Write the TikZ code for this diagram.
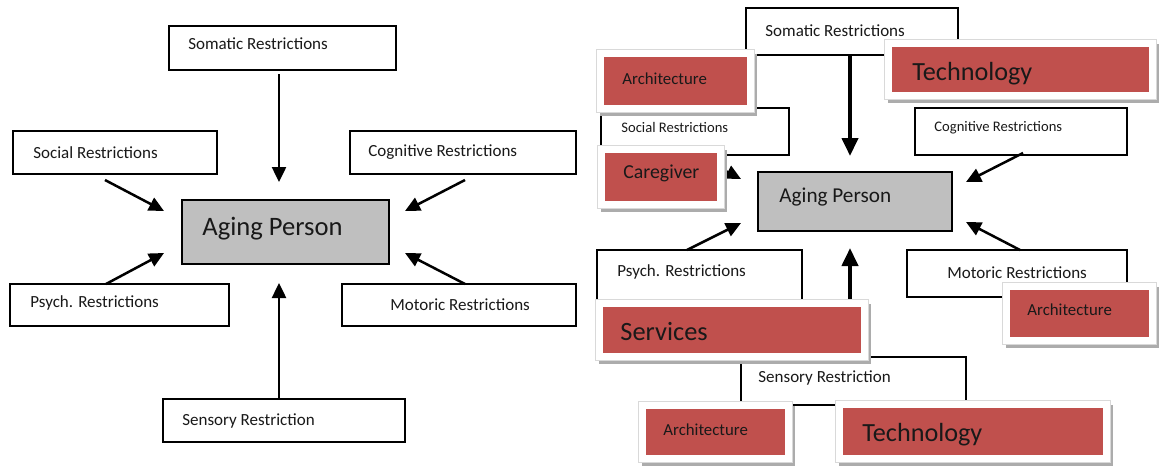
\documentclass[tikz,border=0pt]{standalone}
\usepackage{fontspec}
\setmainfont{Carlito}
\usetikzlibrary{arrows.meta, positioning}

\definecolor{redfill}{HTML}{C0504D}
\definecolor{corefill}{HTML}{BFBFBF}

\begin{document}
\begin{tikzpicture}[x=0.5pt, y=-0.5pt, >={Triangle[length=7.5pt, width=7pt]}]

  % Styles
  \tikzstyle{restr} = [rectangle, draw=black, line width=0.8pt, fill=white, anchor=north west, outer sep=0pt, inner sep=0pt]
  \tikzstyle{core} = [restr, fill=corefill]
  \tikzstyle{support} = [rectangle, fill=redfill, draw=white, line width=3.5pt, anchor=north west, outer sep=0pt, inner sep=0pt, preaction={draw=gray!65, line width=3.5pt, transform canvas={shift={(1.6pt,-2pt)}}}, preaction={draw=gray!30, line width=4.1pt}]
  \tikzstyle{lbl} = [inner sep=0pt, text=black!90, font=\fontsize{8.5}{10}\selectfont]
  \tikzstyle{arr} = [->, line width=1.25pt]
  \tikzstyle{thickarr} = [-{Triangle[length=9pt, width=8pt]}, line width=2pt]

  \useasboundingbox (0,0) rectangle (1159,466);

  % Left: restrictions around the aging person
  \node[restr, minimum width=113.5pt, minimum height=22pt] (somL) at (169,26) {};
  \node[lbl, right=9.5pt of somL.west, yshift=2pt] (somLt) {Somatic Restrictions};
  \node[restr, minimum width=102pt, minimum height=21.5pt] (socL) at (13,131) {};
  \node[lbl, right=10pt of socL.west] (socLt) {Social Restrictions};
  \node[restr, minimum width=113pt, minimum height=21.5pt] (cogL) at (350,131) {};
  \node[lbl, right=9pt of cogL.west] (cogLt) {Cognitive Restrictions};
  \node[core, minimum width=103.5pt, minimum height=32pt] (ageL) at (182,200) {};
  \node[lbl, right=10pt of ageL.west, yshift=1.5pt, font=\fontsize{13.3}{15}\selectfont] (ageLt) {Aging Person};
  \node[restr, minimum width=109.5pt, minimum height=21pt] (psyL) at (10,284) {};
  \node[lbl, right=10pt of psyL.west, yshift=1pt] (psyLt) {Psych. Restrictions};
  \node[restr, minimum width=117pt, minimum height=21pt] (motL) at (342,284) {};
  \node[lbl, right=24pt of motL.west] (motLt) {Motoric Restrictions};
  \node[restr, minimum width=121pt, minimum height=21.5pt] (senL) at (163,399) {};
  \node[lbl, right=9.5pt of senL.west] (senLt) {Sensory Restriction};

  \draw[arr] ([xshift=-1.75pt, yshift=-2pt]somL.south) -- ([xshift=-3.25pt, yshift=9pt]ageL.north);
  \draw[arr] ([xshift=-5pt, yshift=-3pt]socL.south) -- ([xshift=-9pt, yshift=10.5pt]ageL.west);
  \draw[arr] ([xshift=1pt, yshift=-3pt]cogL.south) -- ([xshift=8pt, yshift=10.5pt]ageL.east);
  \draw[arr] ([xshift=-6.75pt]psyL.north) -- ([xshift=-9pt, yshift=-10.5pt]ageL.west);
  \draw[arr] ([xshift=3pt]motL.north) -- ([xshift=8pt, yshift=-10.5pt]ageL.east);
  \draw[arr] ([xshift=-2.5pt]senL.north) -- ([xshift=-3.25pt, yshift=-9.5pt]ageL.south);

  % Right: same scheme with the supports on top
  \node[restr, minimum width=106pt, minimum height=23.5pt] (somR) at (746,8) {};
  \node[lbl, right=9.5pt of somR.west, yshift=0.5pt] (somRt) {Somatic Restrictions};
  \node[restr, minimum width=94pt, minimum height=23.5pt] (socR) at (601,108) {};
  \node[lbl, right=10pt of socR.west, yshift=2pt, font=\fontsize{7.3}{9}\selectfont] (socRt) {Social Restrictions};
  \node[restr, minimum width=106pt, minimum height=23.5pt] (cogR) at (915,108) {};
  \node[lbl, right=9.5pt of cogR.west, yshift=2pt, font=\fontsize{7.3}{9}\selectfont] (cogRt) {Cognitive Restrictions};
  \node[core, minimum width=97pt, minimum height=29.5pt] (ageR) at (758,172) {};
  \node[lbl, right=10.5pt of ageR.west, yshift=2pt, font=\fontsize{10.6}{12}\selectfont] (ageRt) {Aging Person};
  \node[restr, minimum width=102.5pt, minimum height=25pt] (psyR) at (597,250) {};
  \node[lbl, right=10pt of psyR.west, yshift=1.5pt] (psyRt) {Psych. Restrictions};
  \node[restr, minimum width=110pt, minimum height=23.5pt] (motR) at (907,250) {};
  \node[lbl, right=20pt of motR.west, yshift=0.5pt] (motRt) {Motoric Restrictions};
  \node[restr, minimum width=112.5pt, minimum height=24pt] (senR) at (741,357) {};
  \node[lbl, right=8.5pt of senR.west, yshift=1.5pt] (senRt) {Sensory Restriction};

  \draw[thickarr] ([xshift=-1pt]somR.south) -- ([xshift=-2.5pt, yshift=8pt]ageR.north);
  \draw[arr] ([xshift=-1pt, yshift=0.5pt]socR.south) -- ([xshift=-8.5pt, yshift=11.25pt]ageR.west);
  \draw[arr] ([xshift=1pt, yshift=1pt]cogR.south) -- ([xshift=7pt, yshift=9.75pt]ageR.east);
  \draw[arr] ([xshift=-6.25pt]psyR.north) -- ([xshift=-8.5pt, yshift=-10.75pt]ageR.west);
  \draw[arr] ([xshift=1.5pt]motR.north) -- ([xshift=7pt, yshift=-10.25pt]ageR.east);
  \draw[thickarr] ([xshift=-1.75pt]senR.north) -- ([xshift=-2.5pt, yshift=-8.5pt]ageR.south);

  % Supports
  \node[support, minimum width=75pt, minimum height=27.5pt] (arcA) at (600.5,53.5) {};
  \node[lbl, right=10.75pt of arcA.west, yshift=1pt, font=\fontsize{8.4}{10}\selectfont] (arcAt) {Architecture};
  \node[support, minimum width=132pt, minimum height=26pt] (tecA) at (888.5,43.5) {};
  \node[lbl, right=11.75pt of tecA.west, yshift=-2pt, font=\fontsize{13.1}{15}\selectfont] (tecAt) {Technology};
  \node[support, minimum width=59.5pt, minimum height=27.5pt] (carA) at (601.5,149.5) {};
  \node[lbl, right=10.75pt of carA.west, yshift=2pt, font=\fontsize{9.9}{11}\selectfont] (carAt) {Caregiver};
  \node[support, minimum width=73pt, minimum height=27pt] (arcB) at (1006.5,286.5) {};
  \node[lbl, right=10.25pt of arcB.west, yshift=2pt, font=\fontsize{8.4}{10}\selectfont] (arcBt) {Architecture};
  \node[support, minimum width=132.5pt, minimum height=26.5pt] (svcA) at (599.5,303.5) {};
  \node[lbl, right=10.25pt of svcA.west, yshift=-1pt, font=\fontsize{13.2}{15}\selectfont] (svcAt) {Services};
  \node[support, minimum width=73pt, minimum height=26.5pt] (arcC) at (642.5,405.5) {};
  \node[lbl, right=10.25pt of arcC.west, yshift=1pt, font=\fontsize{8.4}{10}\selectfont] (arcCt) {Architecture};
  \node[support, minimum width=133.5pt, minimum height=27pt] (tecB) at (839.5,404.5) {};
  \node[lbl, right=11.25pt of tecB.west, yshift=-1.5pt, font=\fontsize{13.1}{15}\selectfont] (tecBt) {Technology};

\end{tikzpicture}
\end{document}
